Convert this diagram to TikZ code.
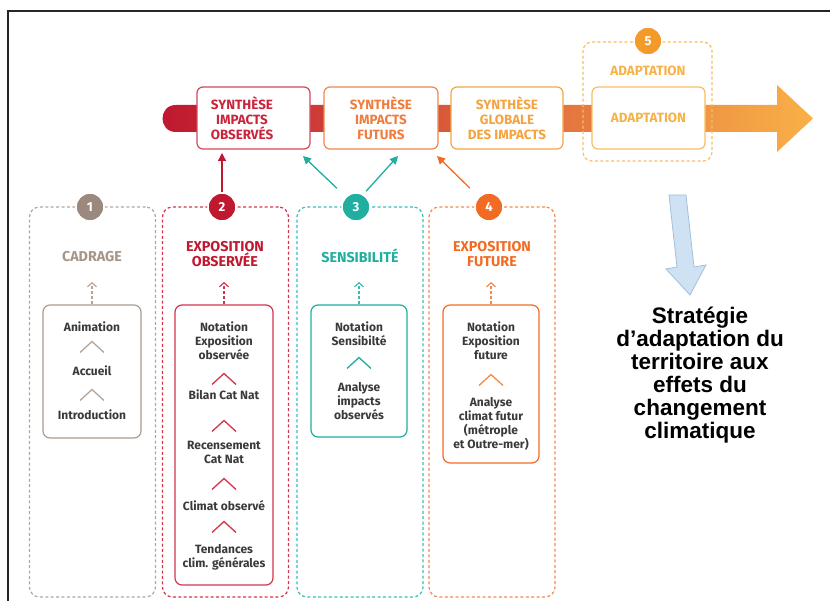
\documentclass[tikz,border=0pt]{standalone}
\usepackage{fontspec}
\setmainfont{Fira Sans}
\newfontfamily\arialfont{Liberation Sans}
\usetikzlibrary{arrows.meta}

% palette
\definecolor{bodytxt}{HTML}{3A3A3A}
\definecolor{taupe}{HTML}{9C897D}
\definecolor{taupetxt}{HTML}{A59488}
\definecolor{taupeline}{HTML}{B5A69C}
\definecolor{crim}{HTML}{C0182F}
\definecolor{crimline}{HTML}{D3364C}
\definecolor{teal}{HTML}{1FAE9F}
\definecolor{tealline}{HTML}{3DBDB0}
\definecolor{orng}{HTML}{F26B25}
\definecolor{orngline}{HTML}{F38A52}
\definecolor{adapt}{HTML}{F39A2B}
\definecolor{adapttxt}{HTML}{F6B247}
\definecolor{adaptline}{HTML}{F8BD62}
\definecolor{bandA}{HTML}{BF1730}
\definecolor{bandB}{HTML}{EC702B}
\definecolor{bandC}{HTML}{F9B047}
\definecolor{boxAline}{HTML}{D4475A}
\definecolor{boxAtxt}{HTML}{C9243A}
\definecolor{boxBline}{HTML}{F0874E}
\definecolor{boxBtxt}{HTML}{EF7C3C}
\definecolor{boxCline}{HTML}{F5A64A}
\definecolor{boxCtxt}{HTML}{F4A33F}
\definecolor{skyfill}{HTML}{CFE2F3}
\definecolor{skyline}{HTML}{A4BFD8}

\tikzset{
  bandbox/.style={draw, line width=1.2pt, rounded corners=6pt, fill=white,
    minimum height=62pt, inner sep=0pt},
  bandtxt/.style={font=\bfseries\fontsize{13.4}{15}\selectfont, align=center, inner sep=0pt},
  numdisc/.style={circle, draw=white, line width=1.5pt, text=white,
    font=\bfseries\fontsize{13}{13}\selectfont, minimum size=28pt, inner sep=0pt},
  colframe/.style={draw, line width=1.2pt, dash pattern=on 3pt off 2.4pt,
    rounded corners=10pt, minimum width=126pt, minimum height=390pt, inner sep=0pt},
  innerbox/.style={draw, line width=1.2pt, rounded corners=7pt, fill=white, inner sep=0pt},
  coltitle/.style={font=\bfseries\fontsize{14.3}{15}\selectfont, align=center, inner sep=0pt},
  bodytext/.style={font=\bfseries\fontsize{12}{14}\selectfont, text=bodytxt,
    align=center, inner sep=0pt},
  chevline/.style={line width=1.3pt, line join=miter},
  upflow/.style={line width=1.2pt, dash pattern=on 3pt off 2pt,
    -{Straight Barb[length=4pt,width=9pt,line width=1.2pt]}},
  feed/.style={line width=1.3pt, -{Triangle[length=8pt,width=8pt]}},
}

% small upward chevron between two steps
\newcommand\chevup[3]{\draw[chevline,#1] (#2,#3) ++(-12,5.5) -- ++(12,-11) -- ++(12,11);}

\begin{document}
\begin{tikzpicture}[x=1pt,y=-1pt]
\useasboundingbox (0,0) rectangle (830,601);

% outer frame
\draw[line width=1.4pt, color=black!85] (8,601) -- (8,11) -- (830,11);

% ---------- process band ----------
\shade[left color=bandA, middle color=bandB, right color=bandC]
  (176,105) -- (777,105) -- (777,85) -- (813,118.5) -- (777,152) -- (777,132)
  -- (176,132) .. controls (158,132) and (158,105) .. (176,105) -- cycle;

\node[bandbox, draw=boxAline, minimum width=113pt] (s1) at (253.5,118) {};
\node[bandtxt, text=boxAtxt] (s1t) at (242,118) {SYNTHÈSE\\IMPACTS\\OBSERVÉS};
\node[bandbox, draw=boxBline, minimum width=114pt] (s2) at (381,118) {};
\node[bandtxt, text=boxBtxt] (s2t) at (381,118) {SYNTHÈSE\\IMPACTS\\FUTURS};
\node[bandbox, draw=boxCline, minimum width=112pt] (s3) at (507,118) {};
\node[bandtxt, text=boxCtxt] (s3t) at (507,118) {SYNTHÈSE\\GLOBALE\\DES IMPACTS};

% step 5
\node[draw=adaptline, line width=1.2pt, dash pattern=on 3pt off 2.4pt, rounded corners=9pt,
  minimum width=129pt, minimum height=119pt, inner sep=0pt] (k5) at (647.5,101.5) {};
\node[bandbox, draw=adaptline, minimum width=113pt] (s4) at (648.5,118) {};
\node[bandtxt, text=adapttxt] (s4t) at (648.5,118) {ADAPTATION};
\node[bandtxt, text=adapttxt] (t5) at (648,71) {ADAPTATION};
\node[numdisc, fill=adapt] (c5) at (648,41) {5};

% ---------- columns ----------
\node[colframe, draw=taupeline] (k1) at (92.5,402) {};
\node[colframe, draw=crimline] (k2) at (225.5,402) {};
\node[colframe, draw=tealline] (k3) at (360,402) {};
\node[colframe, draw=orngline] (k4) at (492,402) {};

\node[numdisc, fill=taupe] (c1) at (90,207) {1};
\node[numdisc, fill=crim] (c2) at (222,207) {2};
\node[numdisc, fill=teal] (c3) at (356,207) {3};
\node[numdisc, fill=orng] (c4) at (489,207) {4};

\node[coltitle, text=taupetxt] (t1) at (92,257) {CADRAGE};
\node[coltitle, text=crim] (t2) at (225,254.5) {EXPOSITION\\OBSERVÉE};
\node[coltitle, text=teal] (t3) at (360,256) {SENSIBILITÉ};
\node[coltitle, text=orng] (t4) at (492,254.5) {EXPOSITION\\FUTURE};

% inner step boxes
\node[innerbox, draw=taupe!85, minimum width=98pt, minimum height=133pt] (b1) at (92,371.5) {};
\node[innerbox, draw=crimline, minimum width=98pt, minimum height=280pt] (b2) at (224,445) {};
\node[innerbox, draw=teal, minimum width=96pt, minimum height=132pt] (b3) at (359,371) {};
\node[innerbox, draw=orng, minimum width=96pt, minimum height=158pt] (b4) at (491,384) {};

% dashed links from the boxes to the column titles
\coordinate (u1) at (92,282);
\coordinate (u2) at (224,282);
\coordinate (u3) at (359,282);
\coordinate (u4) at (491,282);
\draw[upflow, taupeline] (b1.north) -- (u1);
\draw[upflow, crimline] (b2.north) -- (u2);
\draw[upflow, tealline] (b3.north) -- (u3);
\draw[upflow, orngline] (b4.north) -- (u4);

% column 1
\node[bodytext] (p11) at (92,327) {Animation};
\chevup{taupeline}{92}{347}
\node[bodytext] (p12) at (92,371) {Accueil};
\chevup{taupeline}{92}{395}
\node[bodytext] (p13) at (92,415) {Introduction};

% column 2
\node[bodytext] (p21) at (224,341) {Notation\\Exposition\\observée};
\chevup{crimline}{224}{379}
\node[bodytext] (p22) at (224,395) {Bilan Cat Nat};
\chevup{crimline}{224}{426}
\node[bodytext] (p23) at (224,452) {Recensement\\Cat Nat};
\chevup{crimline}{224}{484}
\node[bodytext] (p24) at (224,506) {Climat observé};
\chevup{crimline}{224}{527}
\node[bodytext] (p25) at (224,557) {Tendances\\clim. générales};

% column 3
\node[bodytext] (p31) at (359,334) {Notation\\Sensibilté};
\chevup{teal}{359}{363}
\node[bodytext] (p32) at (359,401) {Analyse\\impacts\\observés};

% column 4
\node[bodytext] (p41) at (491,341) {Notation\\Exposition\\future};
\chevup{orngline}{491}{380}
\node[bodytext] (p42) at (491,423.5) {Analyse\\climat futur\\(métrople\\et Outre-mer)};

% ---------- feeds into the band ----------
\coordinate (fa) at (222,153);
\coordinate (fb) at (303,156);
\coordinate (fc) at (398,156);
\coordinate (fd) at (437,156);
\draw[feed, crim] (c2.north) -- (fa);
\draw[feed, teal, shorten <=12pt] (c3.135) -- (fb);
\draw[feed, teal, shorten <=4pt] (c3.60) -- (fc);
\draw[feed, orng, shorten <=12pt] (c4.135) -- (fd);

% ---------- strategy ----------
\draw[fill=skyfill, draw=skyline, line width=0.8pt]
  (669,195) -- (686,195) -- (694,267) -- (706,265) -- (690,295) -- (666,269) -- (677,267) -- cycle;
\node[font=\arialfont\bfseries\fontsize{22.5}{23}\selectfont, align=center, text=black,
  inner sep=0pt] (goal) at (700,375)
  {Stratégie\\d’adaptation du\\territoire aux\\effets du\\changement\\climatique};

\end{tikzpicture}
\end{document}
